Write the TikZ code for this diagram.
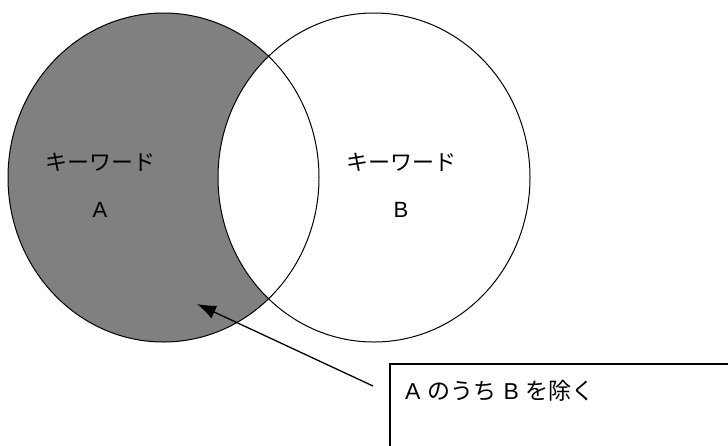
\documentclass[tikz,border=0pt]{standalone}
\usepackage{fontspec}
\setmainfont{Liberation Sans}
\newfontfamily\cjk{Noto Sans CJK JP}
\usetikzlibrary{arrows.meta,shapes.geometric}
\tikzset{
  setshape/.style={ellipse, draw=black, line width=1pt, inner sep=0pt, outer sep=0pt,
    minimum width=311pt, minimum height=329pt},
  lbl/.style={font=\fontsize{22}{26}\selectfont, inner sep=0pt},
  pointer/.style={line width=1.3pt, -{Latex[length=19pt,width=14pt]}},
  boxshape/.style={draw=black, line width=1.5pt, rectangle, anchor=north west, inner sep=0pt,
    minimum width=360pt, minimum height=100pt}
}
\begin{document}
\begin{tikzpicture}[x=1pt,y=-1pt]
\useasboundingbox (0,0) rectangle (728,445);
\clip (0,0) rectangle (728,445);
\fill[fill={rgb,255:red,128;green,128;blue,128}] (163.5,177.5) ellipse [x radius=155.5, y radius=164.5];
\fill[white] (374,177.5) ellipse [x radius=156, y radius=164.5];
\node[setshape] (A) at (163.5,177.5) {};
\node[setshape, minimum width=312pt] (B) at (374,177.5) {};
\node[lbl] (kwA) at (100,162) {\cjk キーワード};
\node[lbl] (lA) at (100,210) {A};
\node[lbl] (kwB) at (401,162) {\cjk キーワード};
\node[lbl] (lB) at (401,210) {B};
\node[boxshape] (box) at (389,363) {};
\node[lbl, anchor=west, font=\fontsize{23}{27}\selectfont] (boxtext) at (405,391)
  {A\hspace{7pt}{\cjk のうち}\hspace{7pt}B\hspace{7pt}{\cjk を除く}};
\coordinate (tail) at (373,386);
\coordinate (tip) at (197,304);
\draw[pointer] (tail) -- (tip);
\end{tikzpicture}
\end{document}
